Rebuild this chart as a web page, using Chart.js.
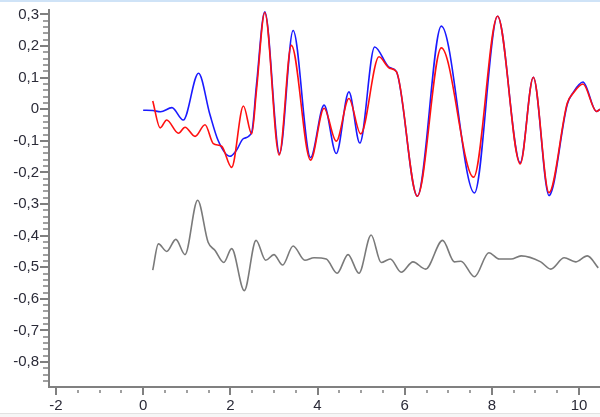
<!DOCTYPE html>
<html><head><meta charset="utf-8">
<style>html,body{margin:0;padding:0;background:#fff;overflow:hidden}#wrap{width:600px;height:417px;position:relative}</style>
<script src="https://cdn.jsdelivr.net/npm/chart.js@4.4.0/dist/chart.umd.min.js"></script>
</head><body><div id="wrap"><canvas id="c" width="600" height="417"></canvas></div>
<script>
// Blue series
const blueX = [0.00,0.22,0.40,0.66,0.92,1.27,1.53,1.72,1.99,2.14,2.30,2.49,2.60,2.79,3.13,3.44,3.84,4.15,4.43,4.72,4.97,5.31,5.65,5.81,6.29,6.84,7.60,8.13,8.65,8.95,9.31,9.73,9.85,10.09,10.40,10.48];
const blueY = [-0.003,-0.004,-0.008,0.005,-0.034,0.114,-0.016,-0.099,-0.149,-0.130,-0.093,-0.073,0.078,0.308,-0.140,0.249,-0.153,0.013,-0.140,0.055,-0.107,0.197,0.132,0.119,-0.275,0.263,-0.265,0.294,-0.169,0.101,-0.273,0.016,0.050,0.086,-0.007,0.000];
// Red series
const redX = [0.22,0.39,0.54,0.81,0.96,1.19,1.42,1.61,1.80,2.03,2.30,2.49,2.60,2.79,3.12,3.40,3.84,4.15,4.43,4.72,4.99,5.41,5.65,5.81,6.29,6.84,7.58,8.13,8.65,8.95,9.31,9.73,9.85,10.09,10.40,10.48];
const redY = [0.026,-0.059,-0.034,-0.076,-0.057,-0.086,-0.049,-0.109,-0.117,-0.184,0.010,-0.078,0.060,0.306,-0.145,0.202,-0.161,0.003,-0.101,0.034,-0.078,0.166,0.130,0.119,-0.275,0.194,-0.215,0.294,-0.173,0.101,-0.264,0.020,0.048,0.080,-0.007,0.000];
// Gray series
const grayX = [0.22,0.35,0.54,0.75,0.96,1.25,1.49,1.65,1.85,2.03,2.32,2.59,2.81,3.00,3.20,3.44,3.71,3.92,4.20,4.45,4.70,4.95,5.23,5.46,5.67,5.92,6.19,6.48,6.87,7.14,7.29,7.60,7.93,8.17,8.44,8.67,9.12,9.35,9.66,9.92,10.19,10.44];
const grayY = [-0.509,-0.426,-0.450,-0.412,-0.460,-0.288,-0.421,-0.447,-0.485,-0.441,-0.574,-0.415,-0.478,-0.460,-0.493,-0.433,-0.478,-0.470,-0.474,-0.519,-0.460,-0.519,-0.398,-0.485,-0.474,-0.516,-0.483,-0.506,-0.415,-0.483,-0.481,-0.530,-0.454,-0.474,-0.474,-0.464,-0.483,-0.506,-0.470,-0.483,-0.464,-0.502];
// Tick labels
const xTicks = [-2,0,2,4,6,8,10];
const yTicks = [0.3,0.2,0.1,0,-0.1,-0.2,-0.3,-0.4,-0.5,-0.6,-0.7,-0.8];

const pts = (xs, ys) => xs.map((x, i) => ({x, y: ys[i]}));
const FONT = {family: "'Liberation Sans', Arial, sans-serif", size: 15};
const TXT = '#2b2b38';
const AX = '#808080';

const chromePlugin = {
  id: 'chrome',
  beforeDraw(chart) {
    const ctx = chart.ctx;
    ctx.save();
    ctx.fillStyle = '#ffffff';
    ctx.fillRect(0, 0, chart.width, chart.height);
    ctx.fillStyle = '#cfe3f7';
    ctx.fillRect(0, 0, chart.width, 2);
    ctx.fillStyle = '#f6f6f6';
    ctx.fillRect(0, 414, chart.width, 3);
    ctx.fillStyle = '#e2e2e2';
    ctx.fillRect(0, 413, chart.width, 1);
    ctx.restore();
  },
  afterDraw(chart) {
    const ctx = chart.ctx, xs = chart.scales.x, ys = chart.scales.y;
    ctx.save();
    ctx.strokeStyle = '#a0a0a0';
    ctx.lineWidth = 2;
    // x minor ticks every 0.5
    for (let k = -4; k <= 21; k++) {
      if (k % 4 === 0) continue;
      const v = k * 0.5;
      const px = Math.round(xs.getPixelForValue(v));
      if (px < xs.left + 2 || px > xs.right) continue;
      ctx.beginPath(); ctx.moveTo(px, xs.top + 3); ctx.lineTo(px, xs.top + 6); ctx.stroke();
    }
    // y minor ticks every 0.02
    for (let k = -44; k <= 15; k++) {
      if (k % 5 === 0) continue;
      const v = k * 0.02;
      const py = Math.round(ys.getPixelForValue(v));
      if (py < ys.top || py > ys.bottom - 2) continue;
      ctx.beginPath(); ctx.moveTo(ys.right - 6, py); ctx.lineTo(ys.right - 1, py); ctx.stroke();
    }
    ctx.restore();
  }
};

new Chart(document.getElementById('c'), {
  type: 'line',
  data: {
    datasets: [
      {data: pts(redX, redY), borderColor: '#ff1010', borderWidth: 1.6, order: 0},
      {data: pts(blueX, blueY), borderColor: '#1a1aff', borderWidth: 1.6, order: 1},
      {data: pts(grayX, grayY), borderColor: '#7a7a7a', borderWidth: 1.6, order: 2}
    ]
  },
  options: {
    responsive: false,
    animation: false,
    events: [],
    elements: {point: {radius: 0}, line: {cubicInterpolationMode: 'monotone', fill: false}},
    layout: {padding: {top: 5, right: 0, left: 0, bottom: 0}},
    plugins: {legend: {display: false}, tooltip: {enabled: false}},
    scales: {
      x: {
        type: 'linear', min: -2.16, max: 10.48,
        afterBuildTicks: s => { s.ticks = xTicks.map(v => ({value: v})); },
        afterFit: s => { s.height = 30; },
        ticks: {font: FONT, color: TXT, padding: 2, maxRotation: 0, autoSkip: false, callback: v => String(v)},
        grid: {drawOnChartArea: false, drawTicks: true, tickLength: 8, color: AX, lineWidth: 2},
        border: {display: true, color: AX, width: 2}
      },
      y: {
        type: 'linear', min: -0.879, max: 0.314,
        afterBuildTicks: s => { s.ticks = yTicks.map(v => ({value: v})); },
        afterFit: s => { s.width = 49; },
        ticks: {font: FONT, color: TXT, padding: 1, autoSkip: false, callback: v => String(v).replace('.', ',')},
        grid: {drawOnChartArea: false, drawTicks: true, tickLength: 9, color: AX, lineWidth: 2},
        border: {display: true, color: AX, width: 2}
      }
    }
  },
  plugins: [chromePlugin]
});
</script>
</body></html>
